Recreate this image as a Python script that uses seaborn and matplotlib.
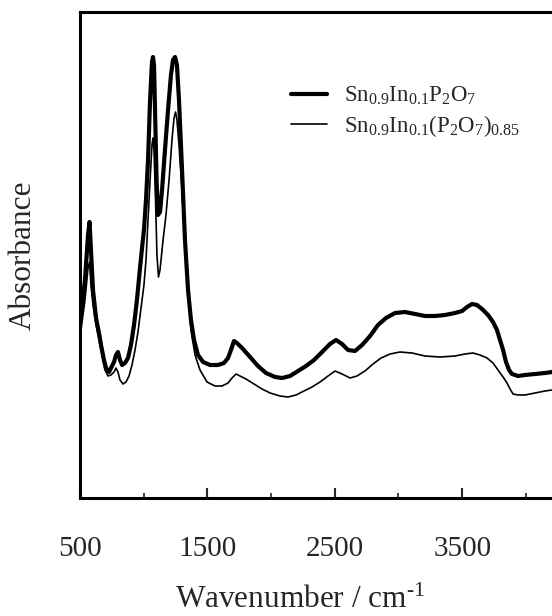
import numpy as np
import pandas as pd
import matplotlib
matplotlib.use("Agg")
import matplotlib.pyplot as plt
import seaborn as sns

# ---- data ----
series_names = [r"$\mathregular{Sn_{0.9}In_{0.1}P_{2}O_{7}}$",
                r"$\mathregular{Sn_{0.9}In_{0.1}(P_{2}O_{7})_{0.85}}$"]

wn_thick = [508, 539, 563, 575, 586, 602, 626, 649, 665, 688,
            704, 728, 751, 767, 783, 798, 814, 830, 853, 877,
            900, 924, 947, 971, 987, 1002, 1018, 1034, 1050, 1065,
            1073, 1081, 1089, 1101, 1112, 1128, 1144, 1167, 1191, 1214,
            1230, 1246, 1261, 1277, 1301, 1324, 1348, 1371, 1395, 1426,
            1466, 1521, 1583, 1630, 1662, 1685, 1709, 1732, 1772, 1835,
            1897, 1960, 2031, 2086, 2149, 2211, 2274, 2337, 2400, 2462,
            2510, 2557, 2604, 2659, 2714, 2777, 2839, 2902, 2973, 3051,
            3130, 3208, 3287, 3365, 3444, 3499, 3538, 3577, 3616, 3656,
            3703, 3742, 3773, 3797, 3821, 3844, 3868, 3891, 3938, 3993,
            4072, 4150, 4205]
abs_thick = [1.83, 2.18, 2.63, 2.76, 2.48, 2.08, 1.80, 1.65, 1.53, 1.38,
             1.30, 1.26, 1.32, 1.36, 1.43, 1.46, 1.38, 1.33, 1.35, 1.40,
             1.53, 1.73, 1.98, 2.30, 2.50, 2.68, 2.98, 3.38, 3.98, 4.36,
             4.41, 4.33, 3.88, 3.18, 2.83, 2.86, 3.08, 3.48, 3.88, 4.23,
             4.38, 4.41, 4.33, 3.98, 3.28, 2.58, 2.08, 1.78, 1.58, 1.43,
             1.36, 1.33, 1.33, 1.35, 1.40, 1.48, 1.57, 1.55, 1.50, 1.41,
             1.32, 1.25, 1.21, 1.20, 1.22, 1.27, 1.32, 1.38, 1.46, 1.54,
             1.58, 1.54, 1.48, 1.47, 1.53, 1.62, 1.73, 1.80, 1.85, 1.86,
             1.84, 1.82, 1.82, 1.83, 1.85, 1.87, 1.91, 1.94, 1.93, 1.89,
             1.83, 1.76, 1.68, 1.58, 1.48, 1.36, 1.28, 1.24, 1.22, 1.23,
             1.24, 1.25, 1.26]

wn_thin = [508, 539, 563, 575, 586, 602, 626, 649, 673, 696,
           720, 743, 767, 783, 798, 814, 838, 861, 885, 908,
           932, 955, 979, 1002, 1018, 1034, 1050, 1065, 1073, 1081,
           1093, 1104, 1116, 1128, 1152, 1175, 1199, 1222, 1238, 1250,
           1261, 1277, 1301, 1324, 1348, 1371, 1403, 1442, 1497, 1560,
           1615, 1662, 1693, 1725, 1756, 1803, 1866, 1929, 1992, 2070,
           2133, 2196, 2258, 2321, 2384, 2447, 2502, 2557, 2620, 2674,
           2737, 2800, 2863, 2934, 3012, 3106, 3208, 3326, 3444, 3522,
           3585, 3640, 3695, 3742, 3781, 3821, 3852, 3876, 3899, 3938,
           3993, 4072, 4150, 4205]
abs_thin = [1.68, 1.98, 2.30, 2.36, 2.13, 1.93, 1.73, 1.58, 1.43, 1.28,
            1.22, 1.23, 1.26, 1.30, 1.26, 1.18, 1.14, 1.16, 1.22, 1.33,
            1.48, 1.66, 1.90, 2.13, 2.38, 2.78, 3.18, 3.53, 3.60, 3.48,
            2.98, 2.43, 2.21, 2.28, 2.58, 2.83, 3.18, 3.58, 3.80, 3.86,
            3.78, 3.53, 3.08, 2.53, 2.08, 1.68, 1.43, 1.28, 1.16, 1.12,
            1.12, 1.15, 1.20, 1.24, 1.22, 1.19, 1.14, 1.09, 1.05, 1.02,
            1.01, 1.03, 1.07, 1.11, 1.16, 1.22, 1.27, 1.24, 1.20, 1.22,
            1.27, 1.34, 1.40, 1.44, 1.46, 1.45, 1.42, 1.41, 1.42, 1.44,
            1.45, 1.43, 1.40, 1.35, 1.28, 1.21, 1.15, 1.09, 1.04, 1.03,
            1.03, 1.05, 1.07, 1.08]

xticks_major = [500, 1500, 2500, 3500]
xticks_minor = [1000, 2000, 3000, 4000]

# ---- style ----
sns.set_style("ticks")
plt.rcParams["font.family"] = ["Liberation Serif", "DejaVu Serif"]
plt.rcParams["mathtext.fontset"] = "custom"
plt.rcParams["mathtext.rm"] = "Liberation Serif"
plt.rcParams["mathtext.it"] = "Liberation Serif:italic"
plt.rcParams["mathtext.bf"] = "Liberation Serif:bold"

df = pd.concat([
    pd.DataFrame({"wn": wn_thick, "a": abs_thick, "sample": series_names[0]}),
    pd.DataFrame({"wn": wn_thin, "a": abs_thin, "sample": series_names[1]}),
], ignore_index=True)

fig = plt.figure(figsize=(5.52, 6.16), dpi=100)
ax = fig.add_axes([80 / 552, 1 - 498 / 616, 472 / 552, 486 / 616])

sns.lineplot(data=df, x="wn", y="a", hue="sample", size="sample",
             palette={series_names[0]: "black", series_names[1]: "black"},
             sizes={series_names[0]: 3.0, series_names[1]: 1.2},
             estimator=None, sort=False, ax=ax, legend=True)

ax.set_xlim(500, 4205)
ax.set_ylim(0, 4.86)
ax.set_xticks(xticks_major)
ax.set_xticks(xticks_minor, minor=True)
ax.set_yticks([])
ax.tick_params(axis="x", which="major", direction="in", length=7, width=1.5,
               labelsize=21, pad=27)
ax.tick_params(axis="x", which="minor", direction="in", length=3.5, width=1.2)

for side in ["left", "bottom", "top"]:
    ax.spines[side].set_linewidth(2.2)
    ax.spines[side].set_color("black")
ax.spines["right"].set_visible(False)

ax.set_xlabel("Wavenumber / cm$^{\\mathregular{\u2010}1}$", fontsize=22.5)
ax.xaxis.set_label_coords(0.466, -0.18)
ax.set_ylabel("Absorbance", fontsize=22.5)
ax.yaxis.set_label_coords(-0.09, 0.5)

handles, labels = ax.get_legend_handles_labels()
leg = ax.legend(handles, labels, loc="upper left",
                bbox_to_anchor=((282 - 80) / 472, (498 - 76) / 486),
                frameon=False, fontsize=16.5, handlelength=1.55,
                handletextpad=0.75, labelspacing=0.25, borderaxespad=0)
for h, lw in zip(leg.get_lines(), [3.0, 1.2]):
    h.set_linewidth(lw)
    h.set_color("black")

fig.savefig("out.png", dpi=100)
